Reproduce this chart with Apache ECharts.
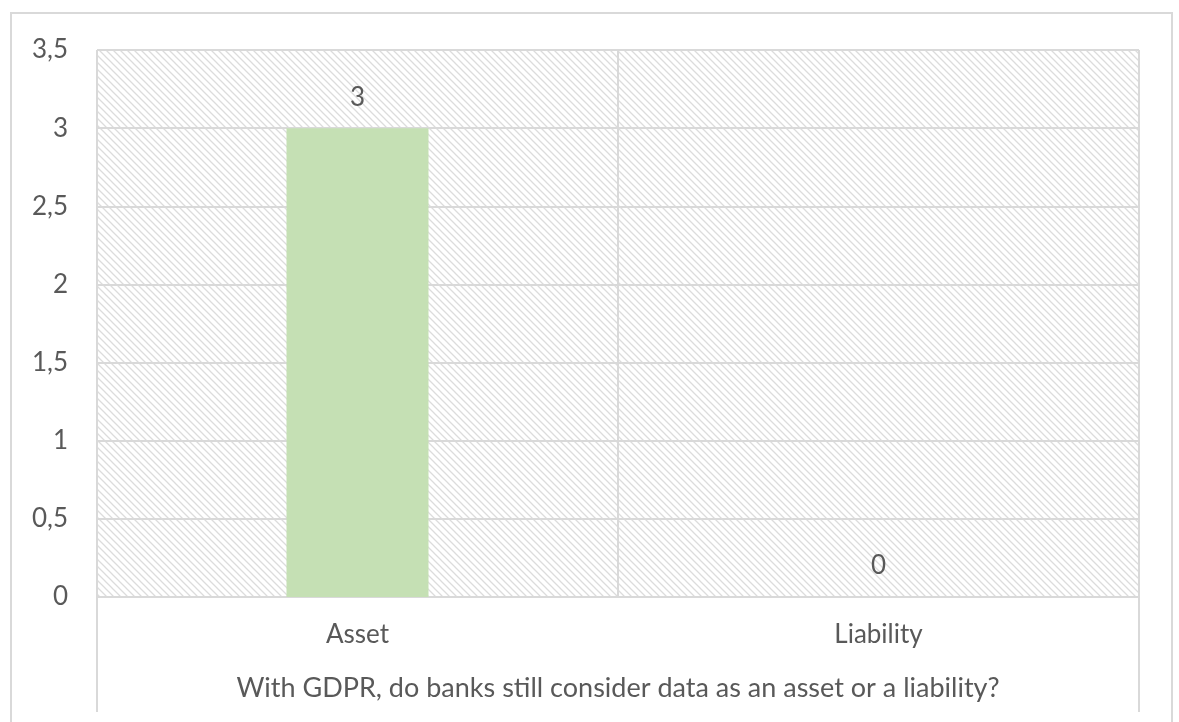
<!DOCTYPE html>
<html>
<head>
<meta charset="utf-8">
<script src="https://cdn.jsdelivr.net/npm/echarts@6/dist/echarts.min.js"></script>
<style>
  html, body { margin: 0; padding: 0; background: #ffffff; }
  #chart { width: 1179px; height: 722px; }
</style>
</head>
<body>
<div id="chart"></div>
<script>
// Survey answers: how banks regard data under GDPR
const categories = ['Asset', 'Liability'];
const responses = [3, 0];
const questionText = 'With GDPR, do banks still consider data as an asset or a liability?';
const yTicks = [0, 0.5, 1, 1.5, 2, 2.5, 3, 3.5];

const FONT = 'Lato, "Open Sans", sans-serif';
const TEXT = '#595959';
const LINE = '#d9d9d9';
const FS = 26;

// Diagonal hatch tile used as the plot-area fill
function hatchTile() {
  const s = 7;
  const c = document.createElement('canvas');
  c.width = s; c.height = s;
  const g = c.getContext('2d');
  g.strokeStyle = '#dcdcdc';
  g.lineWidth = 1.3;
  g.beginPath();
  g.moveTo(-1, -1); g.lineTo(s + 1, s + 1);
  g.moveTo(-1 - s, -1); g.lineTo(1, s + 1);
  g.moveTo(s - 1, -1); g.lineTo(2 * s + 1, s + 1);
  g.stroke();
  return c;
}

const chart = echarts.init(document.getElementById('chart'), null, { renderer: 'canvas' });

chart.setOption({
  backgroundColor: '#ffffff',
  animation: false,
  textStyle: { fontFamily: FONT, color: TEXT },
  graphic: [{
    type: 'rect',
    shape: { x: 11, y: 13, width: 1161, height: 740 },
    style: { fill: 'none', stroke: LINE, lineWidth: 2 },
    silent: true
  }],
  grid: {
    left: 97, right: 40, top: 50, bottom: 125,
    show: true,
    borderWidth: 0,
    backgroundColor: { image: hatchTile(), repeat: 'repeat' }
  },
  xAxis: [{
    type: 'category',
    data: categories,
    boundaryGap: true,
    axisLine: { show: true, lineStyle: { color: LINE, width: 2 } },
    axisTick: { show: false },
    splitLine: { show: true, lineStyle: { color: LINE, width: 2 } },
    axisLabel: { color: TEXT, fontFamily: FONT, fontSize: FS, margin: 25 }
  }, {
    // outer level of the category axis: the question text with its bracket lines
    type: 'value',
    position: 'bottom',
    min: 0, max: 1, interval: 1,
    axisLine: { show: false },
    axisTick: { show: true, length: 115, lineStyle: { color: LINE, width: 2 } },
    axisLabel: { show: false },
    splitLine: { show: false },
    name: questionText,
    nameLocation: 'middle',
    nameGap: 78,
    nameTextStyle: { color: TEXT, fontFamily: FONT, fontSize: 27 }
  }],
  yAxis: {
    type: 'value',
    min: 0, max: 3.5, interval: 0.5,
    axisLine: { show: false },
    axisTick: { show: false },
    splitLine: { show: true, lineStyle: { color: LINE, width: 2 } },
    axisLabel: {
      color: TEXT, fontFamily: FONT, fontSize: FS, margin: 29,
      formatter: v => yTicks.includes(v) ? String(v).replace('.', ',') : ''
    }
  },
  series: [{
    type: 'bar',
    xAxisIndex: 0,
    data: responses,
    barWidth: 142,
    itemStyle: { color: '#c5e0b4' },
    label: {
      show: true,
      position: 'top',
      distance: 18,
      color: TEXT,
      fontFamily: FONT,
      fontSize: FS
    }
  }]
});
</script>
</body>
</html>
